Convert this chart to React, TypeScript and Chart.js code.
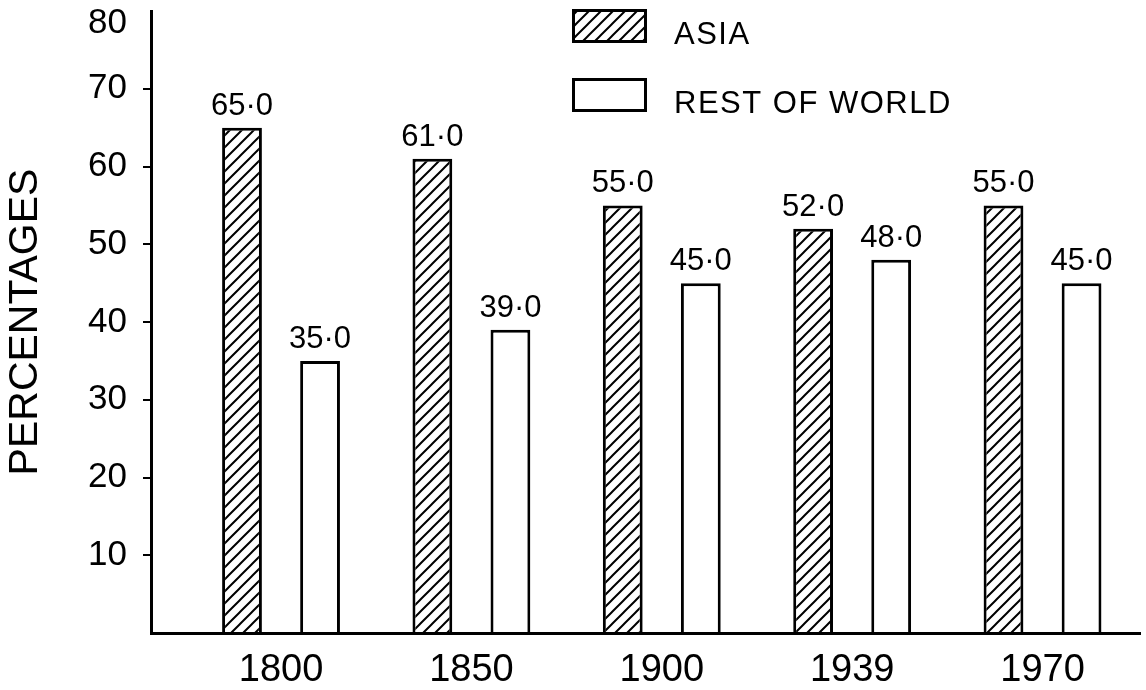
import React, { useEffect, useRef } from 'react';
import { Chart, registerables } from 'chart.js';

Chart.register(...registerables);

// ---- data ----
const years = ['1800', '1850', '1900', '1939', '1970'];
const asiaShare = [65.0, 61.0, 55.0, 52.0, 55.0];
const restShare = [35.0, 39.0, 45.0, 48.0, 45.0];
const seriesNames = ['ASIA', 'REST OF WORLD'];
const yMin = 0;
const yMax = 80;
const yStep = 10;
const yTitle = 'PERCENTAGES';

const FONT = '"Liberation Sans", Arial, Helvetica, sans-serif';

const fmt = (v: number) => v.toFixed(1).replace('.', '\u00B7');

function makeHatch(): any {
  const s = 12;
  const c = document.createElement('canvas');
  c.width = s;
  c.height = s;
  const g = c.getContext('2d');
  if (!g) return '#ffffff';
  g.fillStyle = '#ffffff';
  g.fillRect(0, 0, s, s);
  g.strokeStyle = '#000000';
  g.lineWidth = 2;
  g.lineCap = 'square';
  g.beginPath();
  g.moveTo(-2, s + 2);
  g.lineTo(s + 2, -2);
  g.moveTo(-2, 2);
  g.lineTo(2, -2);
  g.moveTo(s - 2, s + 2);
  g.lineTo(s + 2, s - 2);
  g.stroke();
  return g.createPattern(c, 'repeat') || '#ffffff';
}

const valueLabels = {
  id: 'valueLabels',
  afterDatasetsDraw(chart: any) {
    const ctx = chart.ctx;
    ctx.save();
    ctx.font = `31px ${FONT}`;
    ctx.fillStyle = '#000';
    ctx.textAlign = 'center';
    ctx.textBaseline = 'alphabetic';
    chart.data.datasets.forEach((ds: any, i: number) => {
      const meta = chart.getDatasetMeta(i);
      meta.data.forEach((el: any, j: number) => {
        const raw = ds.data[j];
        const v = typeof raw === 'number' ? raw : raw.y;
        ctx.fillText(fmt(v), el.x, el.y - 13);
      });
    });
    ctx.restore();
  },
};

const boxLegend = {
  id: 'boxLegend',
  afterDraw(chart: any) {
    const { ctx, chartArea } = chart;
    const x0 = chartArea.left + 421;
    const y0 = chartArea.top - 2;
    const boxW = 75;
    const boxH = 34;
    const rowGap = 69;
    ctx.save();
    chart.data.datasets.forEach((ds: any, i: number) => {
      const y = y0 + i * rowGap;
      ctx.fillStyle = ds.backgroundColor;
      ctx.fillRect(x0, y, boxW, boxH);
      ctx.lineWidth = 3;
      ctx.strokeStyle = '#000';
      ctx.strokeRect(x0 + 1.5, y + 1.5, boxW - 3, boxH - 3);
      ctx.fillStyle = '#000';
      ctx.font = `31px ${FONT}`;
      (ctx as any).letterSpacing = '1.5px';
      ctx.textAlign = 'left';
      ctx.textBaseline = 'middle';
      ctx.fillText(ds.label, x0 + boxW + 27, y + boxH / 2 + 9);
    });
    ctx.restore();
  },
};

export default function App() {
  const ref = useRef<HTMLCanvasElement | null>(null);

  useEffect(() => {
    if (!ref.current) return;
    const hatch = makeHatch();
    const chart = new Chart(ref.current, {
      type: 'bar',
      data: {
        datasets: [
          {
            label: seriesNames[0],
            data: asiaShare.map((v, i) => ({ x: i, y: v })),
            backgroundColor: hatch,
            borderColor: '#000',
            borderWidth: 3,
            categoryPercentage: 0.82,
            barPercentage: 0.51,
          } as any,
          {
            label: seriesNames[1],
            data: restShare.map((v, i) => ({ x: i, y: v })),
            backgroundColor: '#ffffff',
            borderColor: '#000',
            borderWidth: 3,
            categoryPercentage: 0.82,
            barPercentage: 0.51,
          } as any,
        ],
      },
      options: {
        responsive: false,
        animation: false,
        layout: { padding: { top: 11, right: 6, bottom: 0, left: 0 } },
        plugins: {
          legend: { display: false },
          tooltip: { enabled: false },
        },
        scales: {
          x: {
            type: 'linear',
            offset: false,
            min: -0.683,
            max: 4.512,
            grid: { display: false },
            border: { display: true, color: '#000', width: 3 },
            ticks: {
              stepSize: 1,
              includeBounds: false,
              autoSkip: false,
              maxRotation: 0,
              minRotation: 0,
              padding: 11,
              color: '#000',
              font: { family: FONT, size: 38, lineHeight: 1 },
              callback: (v: any) => (years[v as number] !== undefined ? years[v as number] : ''),
            },
            afterFit: (s: any) => {
              s.height = 57;
            },
          } as any,
          y: {
            min: yMin,
            max: yMax,
            grid: {
              display: true,
              drawOnChartArea: false,
              drawTicks: true,
              tickLength: 8,
              lineWidth: 2,
              color: (c: any) =>
                c.tick && (c.tick.value === yMin || c.tick.value === yMax) ? 'rgba(0,0,0,0)' : '#000',
            },
            border: { display: true, color: '#000', width: 3 },
            ticks: {
              stepSize: yStep,
              padding: 16,
              color: '#000',
              font: { family: FONT, size: 35, lineHeight: 0.7 },
              callback: (v: any) => (v === yMin ? '' : v === yMax ? ['', String(v)] : String(v)),
            },
            title: {
              display: true,
              text: yTitle,
              color: '#000',
              font: { family: FONT, size: 41 },
              padding: { top: 1, bottom: 0 },
            },
            afterFit: (s: any) => {
              s.width = 151;
              s.paddingTop = 0;
              s.paddingBottom = 0;
            },
          } as any,
        },
      },
      plugins: [valueLabels, boxLegend],
    } as any);
    return () => chart.destroy();
  }, []);

  return (
    <div
      style={{
        position: 'absolute',
        left: 0,
        top: 0,
        width: 1146,
        height: 690,
        background: '#ffffff',
      }}
    >
      <canvas ref={ref} width={1146} height={690} style={{ display: 'block' }} />
    </div>
  );
}
